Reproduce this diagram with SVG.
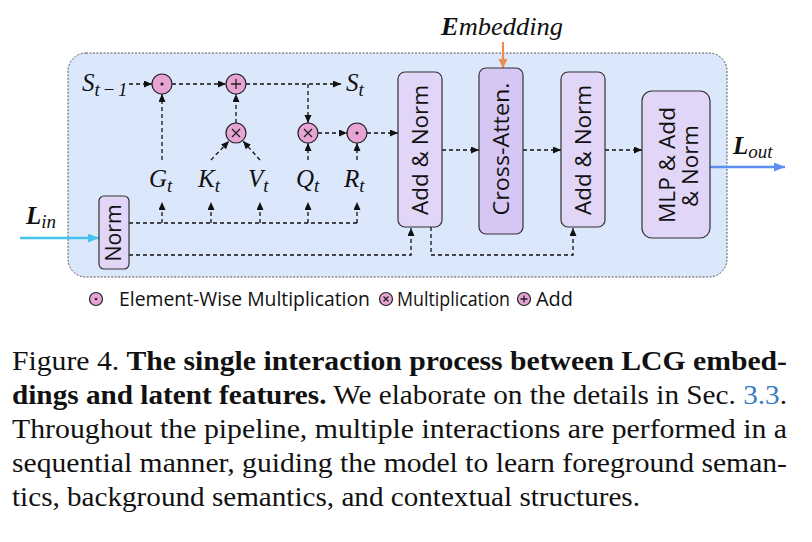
<svg xmlns="http://www.w3.org/2000/svg" width="812" height="542" viewBox="0 0 812 542">
<style>
.dash{fill:none;stroke:#111;stroke-width:1.3;stroke-dasharray:4 3;marker-end:url(#ah)}
.dn{fill:none;stroke:#111;stroke-width:1.3;stroke-dasharray:4 3}
.op{fill:#e7a3d3;stroke:#222;stroke-width:1.2}
.sym{stroke:#222;stroke-width:1.3;fill:none}
.box{fill:#e2d6f8;stroke:#333;stroke-width:1.2}
.box2{fill:#d6c6f3;stroke:#333;stroke-width:1.2}
.lbl{font-family:"Open Sans","Noto Sans",sans-serif;font-size:21px;fill:#111}
.leg{font-family:"Open Sans","Noto Sans",sans-serif;font-size:20px;fill:#111}
.math{font-family:"Liberation Serif",serif;font-style:italic;font-size:25px;fill:#111}
.sub{font-size:19px}
.cap{font-family:"Liberation Serif",serif;font-size:26.5px;fill:#111}
</style>
<defs>
<marker id="ah" markerUnits="userSpaceOnUse" markerWidth="9" markerHeight="8" refX="8" refY="3.5" orient="auto"><path d="M0,0 L8,3.5 L0,7 z" fill="#111"/></marker>
<marker id="ahc" markerUnits="userSpaceOnUse" markerWidth="12" markerHeight="10" refX="11" refY="4.5" orient="auto"><path d="M0,0 L11,4.5 L0,9 z" fill="#45c3ef"/></marker>
<marker id="ahb" markerUnits="userSpaceOnUse" markerWidth="12" markerHeight="10" refX="11" refY="4.5" orient="auto"><path d="M0,0 L11,4.5 L0,9 z" fill="#5b8ff0"/></marker>
<marker id="aho" markerUnits="userSpaceOnUse" markerWidth="10" markerHeight="12" refX="9" refY="4.5" orient="auto"><path d="M0,0 L9,4.5 L0,9 z" fill="#f08a4e"/></marker>
</defs>
<rect width="812" height="542" fill="#ffffff"/>
<rect id="container" x="68" y="53" width="659" height="224" rx="18" fill="#dbe7fb" stroke="#555" stroke-width="1" stroke-dasharray="2 1.5"/>

<g id="connectors">
<line class="dash" x1="129" y1="84" x2="152" y2="84"/>
<line class="dash" x1="172" y1="84" x2="226" y2="84"/>
<line class="dash" x1="246" y1="84" x2="341" y2="84"/>
<line class="dash" x1="308" y1="84" x2="308" y2="123"/>
<line class="dash" x1="236" y1="123" x2="236" y2="94"/>
<line class="dash" x1="211" y1="160" x2="229" y2="141"/>
<line class="dash" x1="260" y1="160" x2="243" y2="141"/>
<line class="dash" x1="308" y1="160" x2="308" y2="143"/>
<line class="dash" x1="357" y1="160" x2="357" y2="143"/>
<line class="dash" x1="162" y1="160" x2="162" y2="94"/>
<line class="dash" x1="318" y1="133" x2="347" y2="133"/>
<line class="dash" x1="367" y1="133" x2="398" y2="133"/>
<line class="dn" x1="129" y1="223" x2="357" y2="223"/>
<line class="dash" x1="162" y1="223" x2="162" y2="202"/>
<line class="dash" x1="211" y1="223" x2="211" y2="202"/>
<line class="dash" x1="260" y1="223" x2="260" y2="202"/>
<line class="dash" x1="308" y1="223" x2="308" y2="202"/>
<line class="dash" x1="357" y1="223" x2="357" y2="202"/>
<polyline class="dash" points="129,255 411,255 411,228"/>
<line class="dash" x1="442" y1="150" x2="479" y2="150"/>
<line class="dash" x1="523" y1="150" x2="561" y2="150"/>
<line class="dash" x1="605" y1="150" x2="642" y2="150"/>
<polyline class="dash" points="431,227 431,255 573,255 573,228"/>
<line x1="503" y1="42" x2="503" y2="68" stroke="#f08a4e" stroke-width="2.2" marker-end="url(#aho)"/>
<line x1="20" y1="238" x2="99" y2="238" stroke="#45c3ef" stroke-width="2.6" marker-end="url(#ahc)"/>
<line x1="710" y1="167" x2="785" y2="167" stroke="#5b8ff0" stroke-width="2.6" marker-end="url(#ahb)"/>
</g>

<g id="op-ew1"><circle class="op" cx="162" cy="84" r="10"/><circle cx="162" cy="84" r="1.6" fill="#222"/></g>
<g id="op-add"><circle class="op" cx="236" cy="84" r="10"/><path class="sym" d="M231,84 H241 M236,79 V89"/></g>
<g id="op-mul1"><circle class="op" cx="236" cy="133" r="10"/><path class="sym" d="M232,129 L240,137 M240,129 L232,137"/></g>
<g id="op-mul2"><circle class="op" cx="308" cy="133" r="10"/><path class="sym" d="M304,129 L312,137 M312,129 L304,137"/></g>
<g id="op-ew2"><circle class="op" cx="357" cy="133" r="10"/><circle cx="357" cy="133" r="1.6" fill="#222"/></g>

<g id="s-prev"><text class="math" x="82" y="91">S<tspan class="sub" dy="5" textLength="33">t−1</tspan></text></g>
<g id="s-t"><text class="math" x="346" y="91">S<tspan class="sub" dy="5">t</tspan></text></g>
<g id="g-t"><text class="math" x="149" y="187">G<tspan class="sub" dy="5">t</tspan></text></g>
<g id="k-t"><text class="math" x="198" y="187">K<tspan class="sub" dy="5">t</tspan></text></g>
<g id="v-t"><text class="math" x="248" y="187">V<tspan class="sub" dy="5">t</tspan></text></g>
<g id="q-t"><text class="math" x="296" y="187">Q<tspan class="sub" dy="5">t</tspan></text></g>
<g id="r-t"><text class="math" x="344" y="187">R<tspan class="sub" dy="5">t</tspan></text></g>

<g id="norm"><rect class="box" x="99" y="196" width="30" height="73" rx="5"/><text class="lbl" transform="translate(121,233) rotate(-90)" text-anchor="middle" textLength="57" lengthAdjust="spacingAndGlyphs">Norm</text></g>
<g id="addnorm1"><rect class="box" x="398" y="72" width="44" height="155" rx="7"/><text class="lbl" transform="translate(428,150) rotate(-90)" text-anchor="middle" textLength="130" lengthAdjust="spacingAndGlyphs">Add &amp; Norm</text></g>
<g id="crossatten"><rect class="box2" x="479" y="68" width="44" height="166" rx="7"/><text class="lbl" transform="translate(509,149) rotate(-90)" text-anchor="middle" textLength="133" lengthAdjust="spacingAndGlyphs">Cross-Atten.</text></g>
<g id="addnorm2"><rect class="box" x="561" y="72" width="44" height="155" rx="7"/><text class="lbl" transform="translate(591,150) rotate(-90)" text-anchor="middle" textLength="130" lengthAdjust="spacingAndGlyphs">Add &amp; Norm</text></g>
<g id="mlp"><rect class="box" x="642" y="91" width="68" height="147" rx="10"/><text class="lbl" transform="translate(675,165) rotate(-90)" text-anchor="middle" textLength="116" lengthAdjust="spacingAndGlyphs">MLP &amp; Add</text><text class="lbl" transform="translate(698,166) rotate(-90)" text-anchor="middle" textLength="82" lengthAdjust="spacingAndGlyphs">&amp; Norm</text></g>

<g id="l-in"><text class="math" x="26" y="224"><tspan font-weight="bold">L</tspan><tspan class="sub" dy="4">in</tspan></text></g>
<g id="l-out"><text class="math" x="733" y="154"><tspan font-weight="bold">L</tspan><tspan class="sub" dy="4">out</tspan></text></g>
<g id="embedding"><text class="math" x="441" y="35" textLength="122" lengthAdjust="spacingAndGlyphs"><tspan font-weight="bold">E</tspan>mbedding</text></g>

<g id="legend">
<circle class="op" cx="96" cy="299" r="6.5"/><circle cx="96" cy="299" r="1.3" fill="#222"/>
<text class="leg" x="119" y="306" textLength="251" lengthAdjust="spacingAndGlyphs">Element-Wise Multiplication</text>
<circle class="op" cx="386" cy="299" r="6.5"/><path class="sym" stroke-width="1" d="M383.5,296.5 L388.5,301.5 M388.5,296.5 L383.5,301.5"/>
<text class="leg" x="397" y="306" textLength="113" lengthAdjust="spacingAndGlyphs">Multiplication</text>
<circle class="op" cx="524" cy="299" r="6.5"/><path class="sym" stroke-width="1" d="M520.5,299 H527.5 M524,295.5 V302.5"/>
<text class="leg" x="536" y="306" textLength="37" lengthAdjust="spacingAndGlyphs">Add</text>
</g>

<g id="caption">
<text class="cap" x="12" y="370" textLength="775" lengthAdjust="spacingAndGlyphs">Figure 4. <tspan font-weight="bold">The single interaction process between LCG embed-</tspan></text>
<text class="cap" x="12" y="404" textLength="775" lengthAdjust="spacingAndGlyphs"><tspan font-weight="bold">dings and latent features.</tspan> We elaborate on the details in Sec. <tspan fill="#3b7dc4">3.3</tspan>.</text>
<text class="cap" x="12" y="438" textLength="775" lengthAdjust="spacingAndGlyphs">Throughout the pipeline, multiple interactions are performed in a</text>
<text class="cap" x="12" y="472" textLength="775" lengthAdjust="spacingAndGlyphs">sequential manner, guiding the model to learn foreground seman-</text>
<text class="cap" x="12" y="506" textLength="628" lengthAdjust="spacingAndGlyphs">tics, background semantics, and contextual structures.</text>
</g>
</svg>
